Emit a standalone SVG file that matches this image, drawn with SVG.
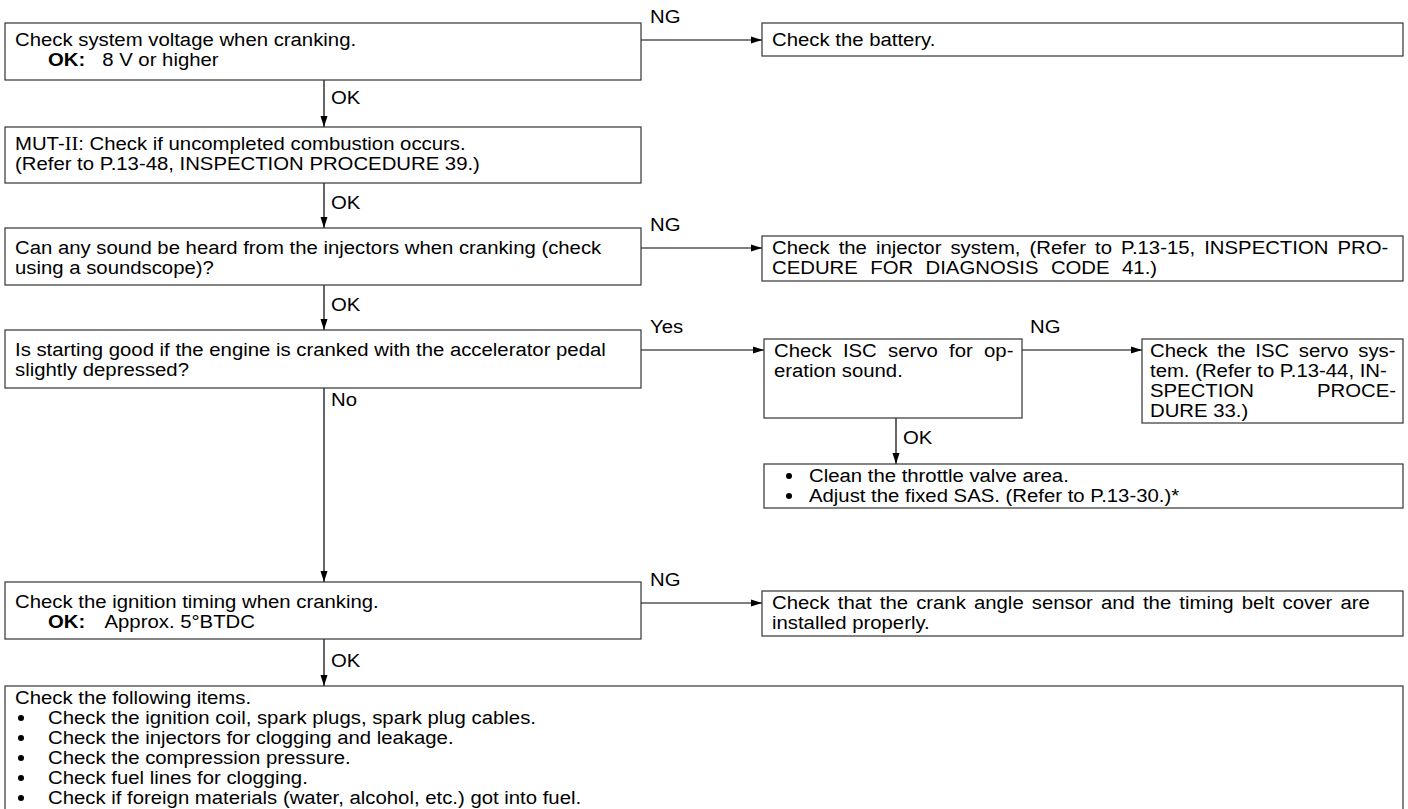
<svg xmlns="http://www.w3.org/2000/svg" width="1408" height="809" viewBox="0 0 1408 809">
<style>
  text { font-family: "Liberation Sans", Arial, sans-serif; font-size: 18px; fill: #000; }
  .b { font-weight: bold; }
  .box { fill: #fff; stroke: #333; stroke-width: 1.2; }
  .ln { stroke: #000; stroke-width: 1.2; fill: none; }
  .rn { font-family: "Liberation Serif", serif; }
</style>
<defs>
  <marker id="ah" markerWidth="12" markerHeight="8" refX="11" refY="4" orient="auto" markerUnits="userSpaceOnUse">
    <path d="M0,0.5 L11,4 L0,7.5 z" fill="#000"/>
  </marker>
</defs>
<rect width="1408" height="809" fill="#fff"/>

<g id="connectors">
  <line class="ln" x1="641" y1="40" x2="762" y2="40" marker-end="url(#ah)"/>
  <text transform="translate(650 23) scale(1.13 1)">NG</text>
  <line class="ln" x1="324" y1="80" x2="324" y2="127" marker-end="url(#ah)"/>
  <text transform="translate(331 104) scale(1.13 1)">OK</text>
  <line class="ln" x1="324" y1="183" x2="324" y2="228" marker-end="url(#ah)"/>
  <text transform="translate(331 209) scale(1.13 1)">OK</text>
  <line class="ln" x1="641" y1="248" x2="762" y2="248" marker-end="url(#ah)"/>
  <text transform="translate(650 231) scale(1.13 1)">NG</text>
  <line class="ln" x1="324" y1="285" x2="324" y2="330" marker-end="url(#ah)"/>
  <text transform="translate(331 311) scale(1.13 1)">OK</text>
  <line class="ln" x1="641" y1="350" x2="764" y2="350" marker-end="url(#ah)"/>
  <text transform="translate(650 333) scale(1.13 1)">Yes</text>
  <line class="ln" x1="1022" y1="350" x2="1142" y2="350" marker-end="url(#ah)"/>
  <text transform="translate(1030 333) scale(1.13 1)">NG</text>
  <line class="ln" x1="896" y1="418" x2="896" y2="464" marker-end="url(#ah)"/>
  <text transform="translate(903 444) scale(1.13 1)">OK</text>
  <line class="ln" x1="324" y1="388" x2="324" y2="582" marker-end="url(#ah)"/>
  <text transform="translate(331 406) scale(1.13 1)">No</text>
  <line class="ln" x1="641" y1="603" x2="762" y2="603" marker-end="url(#ah)"/>
  <text transform="translate(650 586) scale(1.13 1)">NG</text>
  <line class="ln" x1="324" y1="639" x2="324" y2="686" marker-end="url(#ah)"/>
  <text transform="translate(331 667) scale(1.13 1)">OK</text>
</g>

<g id="n1">
  <rect class="box" x="5" y="23" width="636" height="57"/>
  <text transform="translate(15 46) scale(1.13 1)">Check system voltage when cranking.</text>
  <text transform="translate(48 66) scale(1.13 1)"><tspan class="b">OK:</tspan><tspan x="48">8 V or higher</tspan></text>
</g>
<g id="n2">
  <rect class="box" x="762" y="23" width="641" height="33"/>
  <text transform="translate(772 46) scale(1.13 1)">Check the battery.</text>
</g>
<g id="n3">
  <rect class="box" x="5" y="127" width="636" height="56"/>
  <text transform="translate(15 150) scale(1.13 1)">MUT-<tspan class="rn">II</tspan>: Check if uncompleted combustion occurs.</text>
  <text transform="translate(15 170) scale(1.13 1)">(Refer to P.13-48, INSPECTION PROCEDURE 39.)</text>
</g>
<g id="n4">
  <rect class="box" x="5" y="228" width="636" height="57"/>
  <text transform="translate(15 254) scale(1.13 1)">Can any sound be heard from the injectors when cranking (check</text>
  <text transform="translate(15 274) scale(1.13 1)">using a soundscope)?</text>
</g>
<g id="n5">
  <rect class="box" x="762" y="236" width="641" height="45"/>
  <text transform="translate(772 254) scale(1.13 1)" word-spacing="3">Check the injector system, (Refer to P.13-15, INSPECTION PRO-</text>
  <text transform="translate(772 274) scale(1.13 1)" word-spacing="6">CEDURE FOR DIAGNOSIS CODE 41.)</text>
</g>
<g id="n6">
  <rect class="box" x="5" y="330" width="636" height="58"/>
  <text transform="translate(15 356) scale(1.13 1)">Is starting good if the engine is cranked with the accelerator pedal</text>
  <text transform="translate(15 376) scale(1.13 1)">slightly depressed?</text>
</g>
<g id="n7">
  <rect class="box" x="764" y="339" width="258" height="79"/>
  <text transform="translate(774 357) scale(1.13 1)" word-spacing="5">Check ISC servo for op-</text>
  <text transform="translate(774 377) scale(1.13 1)">eration sound.</text>
</g>
<g id="n8">
  <rect class="box" x="1142" y="339" width="261" height="84"/>
  <text transform="translate(1150 357) scale(1.13 1)" word-spacing="3.6">Check the ISC servo sys-</text>
  <text transform="translate(1150 377) scale(1.13 1)">tem. (Refer to P.13-44, IN-</text>
  <text transform="translate(1150 397) scale(1.13 1)">SPECTION</text>
  <text transform="translate(1396 397) scale(1.13 1)" text-anchor="end">PROCE-</text>
  <text transform="translate(1150 417) scale(1.13 1)">DURE 33.)</text>
</g>
<g id="n9">
  <rect class="box" x="764" y="464" width="639" height="44"/>
  <circle cx="789" cy="476" r="3"/>
  <text transform="translate(809 482) scale(1.13 1)">Clean the throttle valve area.</text>
  <circle cx="789" cy="496" r="3"/>
  <text transform="translate(809 502) scale(1.13 1)">Adjust the fixed SAS. (Refer to P.13-30.)*</text>
</g>
<g id="n10">
  <rect class="box" x="5" y="582" width="636" height="57"/>
  <text transform="translate(15 608) scale(1.13 1)">Check the ignition timing when cranking.</text>
  <text transform="translate(48 628) scale(1.13 1)"><tspan class="b">OK:</tspan><tspan x="50">Approx. 5°BTDC</tspan></text>
</g>
<g id="n11">
  <rect class="box" x="762" y="591" width="641" height="45"/>
  <text transform="translate(772 609) scale(1.13 1)" word-spacing="2.2">Check that the crank angle sensor and the timing belt cover are</text>
  <text transform="translate(772 629) scale(1.13 1)">installed properly.</text>
</g>
<g id="n12">
  <rect class="box" x="5" y="686" width="1398" height="132"/>
  <text transform="translate(15 704) scale(1.13 1)">Check the following items.</text>
  <circle cx="21" cy="718" r="3"/>
  <text transform="translate(48 724) scale(1.13 1)">Check the ignition coil, spark plugs, spark plug cables.</text>
  <circle cx="21" cy="738" r="3"/>
  <text transform="translate(48 744) scale(1.13 1)">Check the injectors for clogging and leakage.</text>
  <circle cx="21" cy="758" r="3"/>
  <text transform="translate(48 764) scale(1.13 1)">Check the compression pressure.</text>
  <circle cx="21" cy="778" r="3"/>
  <text transform="translate(48 784) scale(1.13 1)">Check fuel lines for clogging.</text>
  <circle cx="21" cy="798" r="3"/>
  <text transform="translate(48 804) scale(1.13 1)">Check if foreign materials (water, alcohol, etc.) got into fuel.</text>
</g>
</svg>
